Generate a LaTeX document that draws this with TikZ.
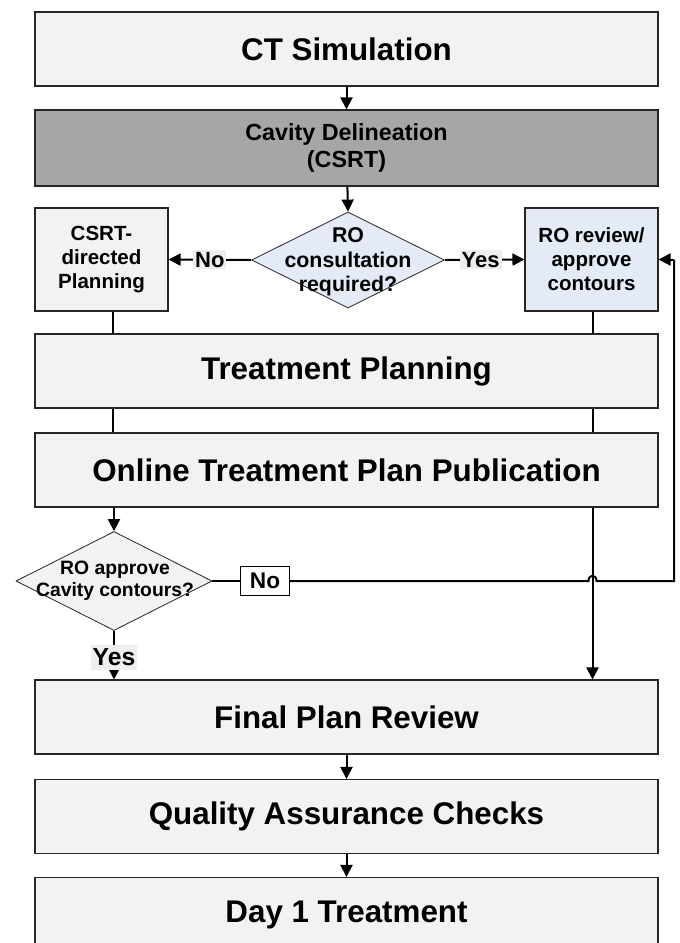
\documentclass[tikz,border=0pt]{standalone}
\usepackage{fontspec}
\setmainfont{Liberation Sans}
\usetikzlibrary{shapes.geometric,arrows.meta}
\definecolor{boxfill}{HTML}{F2F2F2}
\definecolor{darkfill}{HTML}{A6A6A6}
\definecolor{bluefill}{HTML}{E4EBF6}
\definecolor{lblfill}{HTML}{EEEEEE}
\definecolor{edge}{HTML}{262626}
\begin{document}
\begin{tikzpicture}[x=0.75pt,y=-0.75pt,
  bigbox/.style={draw=edge, line width=0.8pt, fill=boxfill, minimum width=467.25pt,
    minimum height=55.5pt, inner sep=0pt, font=\fontsize{23.5pt}{28pt}\selectfont\bfseries},
  smallbox/.style={draw=edge, line width=0.8pt, fill=boxfill, minimum width=99.75pt,
    minimum height=77.25pt, inner sep=0pt, align=center,
    font=\fontsize{15.4pt}{18pt}\selectfont\bfseries},
  dia/.style={diamond, draw=edge, line width=0.6pt, inner sep=0pt},
  diatext/.style={align=center, inner sep=0pt},
  lbl/.style={fill=lblfill, inner sep=1.5pt, font=\fontsize{16.5pt}{18pt}\selectfont\bfseries},
  biglbl/.style={fill=lblfill, inner xsep=1.5pt, inner ysep=3pt,
    font=\fontsize{18.5pt}{20pt}\selectfont\bfseries},
  nobox/.style={draw=black, line width=0.8pt, fill=white, inner sep=2pt,
    minimum width=37pt, minimum height=22pt, font=\fontsize{17pt}{18pt}\selectfont\bfseries},
  conn/.style={line width=1.5pt, draw=black},
  arr/.style={conn, -{Triangle[length=9pt,width=9pt]}}
]
\clip (0,0) rectangle (680,943);
\fill[white] (0,0) rectangle (680,943);

% main boxes
\node[bigbox] (ct) at (346.5,49) {CT Simulation};
\node[bigbox, fill=darkfill, minimum height=57pt, align=center,
  font=\fontsize{17.5pt}{20pt}\selectfont\bfseries] (cav) at (346.5,148)
  {Cavity Delineation\\(CSRT)};
\node[smallbox] (csrt) at (101.5,259.5) {CSRT-\\directed\\Planning};
\node[smallbox, fill=bluefill] (rorev) at (591.5,259.5) {RO review/\\approve\\contours};
\node[dia, fill=bluefill, minimum width=144.75pt, minimum height=72pt] (d1) at (348,260) {};
\node[diatext, font=\fontsize{16pt}{18.5pt}\selectfont\bfseries] (d1t) at (348,262)
  {RO\\consultation\\required?};
\node[bigbox] (tp) at (346.5,371) {Treatment Planning};
\node[bigbox] (onl) at (346.5,470) {Online Treatment Plan Publication};
\node[dia, fill=boxfill, minimum width=147pt, minimum height=74.25pt] (d2) at (114,581) {};
\node[diatext, font=\fontsize{14.5pt}{16.7pt}\selectfont\bfseries] (d2t) at (115,581)
  {RO approve\\Cavity contours?};
\node[nobox] (no2) at (265,581) {No};
\node[bigbox] (fin) at (346.5,717) {Final Plan Review};
\node[bigbox] (qa) at (346.5,816.5) {Quality Assurance Checks};
\node[bigbox] (day1) at (346.5,914.5) {Day 1 Treatment};

% helper coordinates
\coordinate (lx) at (113,0);
\coordinate (rx) at (592.5,0);
\coordinate (rr) at (674,0);
\coordinate (hopl) at (588.5,581);
\coordinate (hopr) at (596.5,581);

% connectors
\draw[arr] (ct) -- (cav);
\draw[arr] (cav) -- (d1.north);
\draw[arr] (d1.west) -- node[lbl] {No} (csrt.east);
\draw[arr] (d1.east) -- node[lbl, pos=0.45] {Yes} (rorev.west);
\draw[conn] (csrt.south -| lx) -- (tp.north -| lx);
\draw[conn] (rorev.south -| rx) -- (tp.north -| rx);
\draw[conn] (tp.south -| lx) -- (onl.north -| lx);
\draw[conn] (tp.south -| rx) -- (onl.north -| rx);
\draw[arr] (onl.south -| d2.north) -- (d2.north);
\draw[conn] (d2.east) -- (no2.west);
\draw[conn] (no2.east) -- (hopl) .. controls +(0,-7) and +(0,-7) .. (hopr)
  -- (hopr -| rr) -- (rorev.east -| rr);
\draw[arr] (rorev.east -| rr) -- (rorev.east);
\draw[arr] (onl.south -| rx) -- (fin.north -| rx);
\draw[arr] (d2.south) -- node[biglbl, pos=0.54] {Yes} (fin.north -| d2.south);
\draw[arr] (fin) -- (qa);
\draw[arr] (qa) -- (day1);
\end{tikzpicture}
\end{document}
